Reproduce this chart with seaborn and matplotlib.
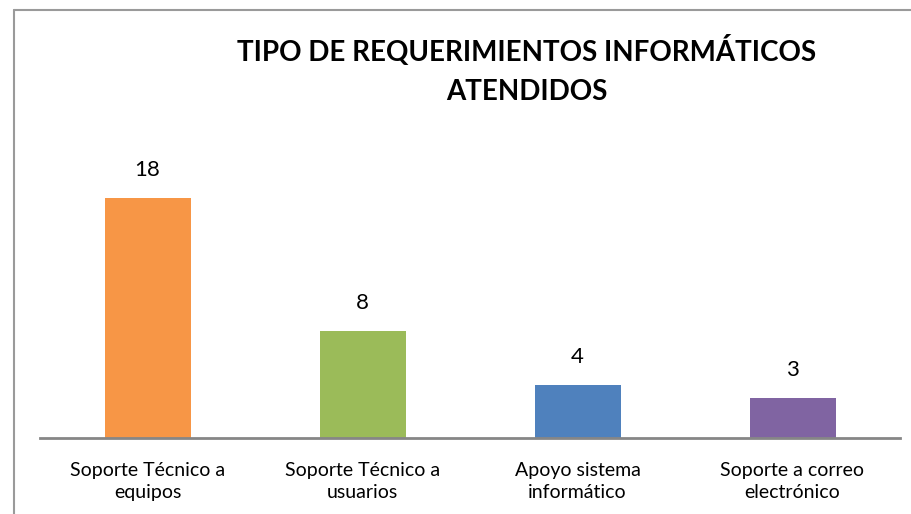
import matplotlib.pyplot as plt
import seaborn as sns
from matplotlib.lines import Line2D

categorias = ["Soporte Técnico a\nequipos", "Soporte Técnico a\nusuarios",
              "Apoyo sistema\ninformático", "Soporte a correo\nelectrónico"]
valores = [18, 8, 4, 3]
colores = ["#F79646", "#9BBB59", "#4F81BD", "#8064A2"]
titulo = "TIPO DE REQUERIMIENTOS INFORMÁTICOS\nATENDIDOS"

sns.set_style("white")
plt.rcParams['font.family'] = ['Lato', 'DejaVu Sans']
plt.rcParams['text.color'] = 'black'
plt.rcParams['xtick.color'] = 'black'

fig = plt.figure(figsize=(9.11, 5.14), dpi=100)
ax = fig.add_axes([40 / 911, 76 / 514, 860 / 911, 266.7 / 514])

sns.barplot(x=categorias, y=valores, hue=categorias, palette=colores,
            width=0.4, saturation=1, legend=False, linewidth=0, ax=ax)

ax.set_xlim(-0.5, 3.5)
ax.set_ylim(0, 20)
ax.set_yticks([])
for s in ["top", "right", "left"]:
    ax.spines[s].set_visible(False)
ax.spines["bottom"].set_color("#868686")
ax.spines["bottom"].set_linewidth(2)
ax.tick_params(axis="x", length=0, pad=17, labelsize=14, labelcolor="black")
for lbl in ax.get_xticklabels():
    lbl.set_linespacing(1.4)

for cont in ax.containers:
    ax.bar_label(cont, padding=13, fontsize=16, color="black", clip_on=False)

fig.text(527 / 911, 1 - 70 / 514, titulo, ha="center", va="center",
         fontsize=20, fontweight="bold", linespacing=1.65, color="black")

# marco del gráfico
fig.add_artist(Line2D([14 / 911, 14 / 911], [0, 1 - 10 / 514],
                      color="#9a9a9a", lw=1.5, transform=fig.transFigure))
fig.add_artist(Line2D([14 / 911, 1], [1 - 10 / 514, 1 - 10 / 514],
                      color="#9a9a9a", lw=1.5, transform=fig.transFigure))

fig.savefig("out.png", dpi=100)
